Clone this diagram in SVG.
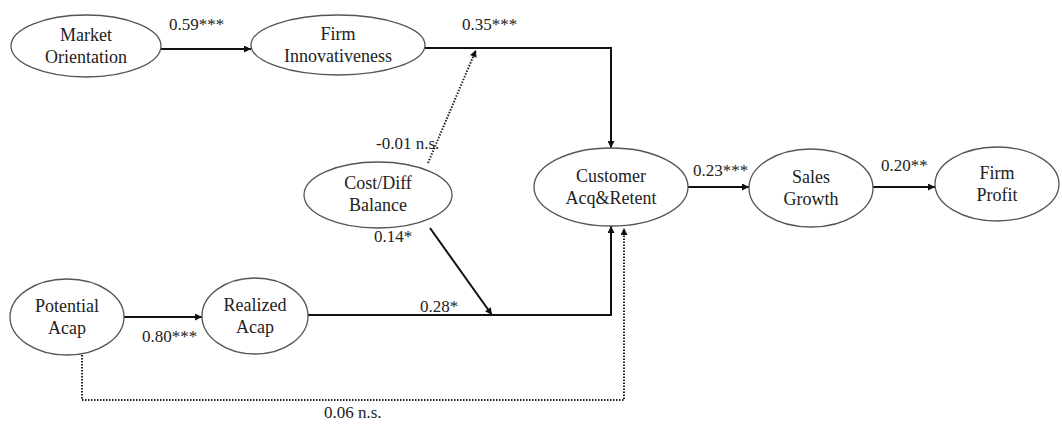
<svg xmlns="http://www.w3.org/2000/svg" width="1062" height="426" viewBox="0 0 1062 426">
<defs>
<marker id="ah" viewBox="0 0 10 10" refX="10" refY="5" markerWidth="9" markerHeight="7" markerUnits="userSpaceOnUse" orient="auto">
<path d="M0,0 L10,5 L0,10 z" fill="#111"/>
</marker>
</defs>
<style>
.node ellipse{fill:#fff;stroke:#555;stroke-width:1.3}
text{font-family:"Liberation Serif","Times New Roman",serif;font-size:18px;fill:#222}
.node text{text-anchor:middle}
.lbl{font-size:17px}
.c{fill:none;stroke:#111;stroke-width:2}
.d{fill:none;stroke:#222;stroke-width:2;stroke-dasharray:1.5 1.5}
</style>
<rect width="1062" height="426" fill="#fff"/>
<g id="connectors">
<line class="c" x1="161" y1="49" x2="251" y2="49" marker-end="url(#ah)"/>
<path class="c" d="M425,48 H611 V148" marker-end="url(#ah)"/>
<line class="d" x1="428" y1="163" x2="476" y2="50" marker-end="url(#ah)"/>
<line class="c" x1="430" y1="228" x2="492" y2="315" marker-end="url(#ah)"/>
<path class="c" d="M308,315 H611 V226" marker-end="url(#ah)"/>
<line class="c" x1="124" y1="317" x2="202" y2="317" marker-end="url(#ah)"/>
<path class="d" d="M82,355 V400 H624 V228" marker-end="url(#ah)"/>
<line class="c" x1="688" y1="187" x2="749" y2="187" marker-end="url(#ah)"/>
<line class="c" x1="873" y1="187" x2="935" y2="187" marker-end="url(#ah)"/>
</g>
<g id="labels">
<text class="lbl" x="169" y="30">0.59***</text>
<text class="lbl" x="462" y="30">0.35***</text>
<text class="lbl" x="376" y="149">-0.01 n.s.</text>
<text class="lbl" x="374" y="242">0.14*</text>
<text class="lbl" x="420" y="312">0.28*</text>
<text class="lbl" x="142" y="342">0.80***</text>
<text class="lbl" x="693" y="176">0.23***</text>
<text class="lbl" x="881" y="171">0.20**</text>
<text class="lbl" x="324" y="418">0.06 n.s.</text>
</g>
<g id="market-orientation" class="node"><ellipse cx="86" cy="46" rx="75" ry="31"/><text x="86" y="41">Market</text><text x="86" y="63">Orientation</text></g>
<g id="firm-innovativeness" class="node"><ellipse cx="338" cy="45" rx="87" ry="30"/><text x="338" y="40">Firm</text><text x="338" y="62">Innovativeness</text></g>
<g id="cost-diff-balance" class="node"><ellipse cx="378" cy="195" rx="74" ry="33"/><text x="378" y="189">Cost/Diff</text><text x="378" y="211">Balance</text></g>
<g id="customer" class="node"><ellipse cx="611" cy="187" rx="77" ry="39"/><text x="611" y="182">Customer</text><text x="611" y="204">Acq&amp;Retent</text></g>
<g id="sales-growth" class="node"><ellipse cx="811" cy="188" rx="62" ry="39"/><text x="811" y="183">Sales</text><text x="811" y="205">Growth</text></g>
<g id="firm-profit" class="node"><ellipse cx="997" cy="184" rx="62" ry="37"/><text x="997" y="179">Firm</text><text x="997" y="201">Profit</text></g>
<g id="potential-acap" class="node"><ellipse cx="67" cy="317" rx="57" ry="38"/><text x="67" y="312">Potential</text><text x="67" y="334">Acap</text></g>
<g id="realized-acap" class="node"><ellipse cx="255" cy="316" rx="53" ry="38"/><text x="255" y="311">Realized</text><text x="255" y="333">Acap</text></g>
</svg>
